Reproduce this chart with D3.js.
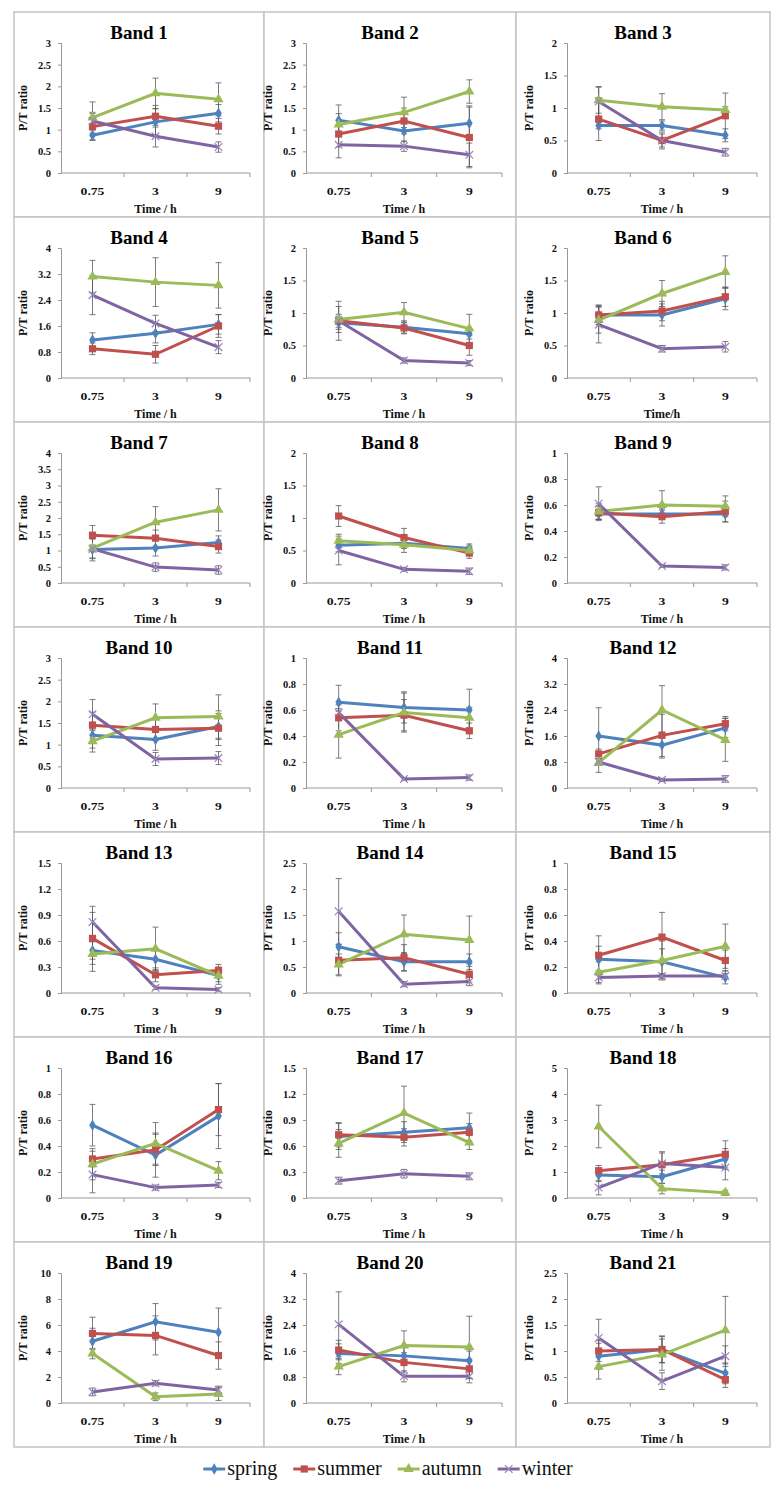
<!DOCTYPE html>
<html><head><meta charset="utf-8">
<script src="https://cdn.jsdelivr.net/npm/d3@7"></script>
<style>body{margin:0;background:#fff}svg{display:block}svg text{font-family:"Liberation Serif","DejaVu Serif",serif}</style>
</head><body>
<script>
const times = ["0.75","3","9"];
const seasons = ["spring","summer","autumn","winter"];
const colors = ["#4F81BD","#C0504D","#9BBB59","#8064A2"];
const bandTitles = d3.range(1,22).map(i=>"Band "+i);
const xTitles = ["Time / h","Time / h","Time / h","Time / h","Time / h","Time/h","Time / h","Time / h","Time / h","Time / h","Time / h","Time / h","Time / h","Time / h","Time / h","Time / h","Time / h","Time / h","Time / h","Time / h","Time / h"];
const yMax  = [3,3,2,4,2,2,4,2,1,3,1,4,1.5,2.5,1,1,1.5,5,10,4,2.5];
const yStep = [0.5,0.5,0.5,0.8,0.5,0.5,0.5,0.5,0.2,0.5,0.2,0.8,0.3,0.5,0.2,0.2,0.3,1,2,0.8,0.5];

const spring = [[0.87,1.18,1.38],[1.22,0.97,1.15],[0.73,0.73,0.58],[1.17,1.38,1.65],[0.85,0.78,0.68],[0.97,0.97,1.22],[1.03,1.08,1.25],[0.58,0.61,0.53],[0.53,0.53,0.53],[1.22,1.12,1.42],[0.66,0.62,0.60],[1.60,1.32,1.85],[0.49,0.39,0.20],[0.89,0.60,0.60],[0.26,0.24,0.12],[0.56,0.33,0.63],[0.71,0.76,0.81],[0.88,0.82,1.50],[4.75,6.25,5.45],[1.52,1.45,1.30],[0.90,1.03,0.57]];
const summer = [[1.07,1.31,1.08],[0.90,1.20,0.82],[0.83,0.50,0.88],[0.90,0.73,1.60],[0.88,0.77,0.50],[0.97,1.03,1.25],[1.47,1.38,1.12],[1.03,0.70,0.46],[0.54,0.51,0.55],[1.45,1.35,1.38],[0.54,0.56,0.44],[1.05,1.62,1.98],[0.63,0.21,0.26],[0.63,0.68,0.36],[0.29,0.43,0.25],[0.30,0.37,0.68],[0.73,0.70,0.76],[1.05,1.28,1.68],[5.35,5.20,3.65],[1.63,1.25,1.05],[1.00,1.03,0.45]];
const autumn = [[1.28,1.84,1.70],[1.12,1.40,1.88],[1.12,1.02,0.97],[3.12,2.95,2.85],[0.90,1.01,0.76],[0.89,1.30,1.63],[1.07,1.87,2.25],[0.65,0.59,0.50],[0.55,0.60,0.59],[1.08,1.62,1.65],[0.41,0.58,0.54],[0.78,2.40,1.48],[0.45,0.51,0.20],[0.55,1.13,1.02],[0.16,0.25,0.36],[0.26,0.42,0.21],[0.63,0.98,0.64],[2.75,0.36,0.20],[3.80,0.48,0.70],[1.12,1.77,1.72],[0.70,0.93,1.40]];
const winter = [[1.20,0.85,0.60],[0.65,0.62,0.42],[1.10,0.50,0.32],[2.55,1.68,0.95],[0.88,0.27,0.23],[0.82,0.45,0.48],[1.05,0.49,0.40],[0.50,0.21,0.18],[0.61,0.13,0.12],[1.70,0.67,0.69],[0.58,0.07,0.08],[0.80,0.25,0.28],[0.82,0.06,0.04],[1.57,0.17,0.22],[0.12,0.13,0.13],[0.18,0.08,0.10],[0.20,0.28,0.25],[0.40,1.33,1.17],[0.85,1.52,1.00],[2.42,0.82,0.82],[1.25,0.42,0.90]];

const springErr = [[0.12,0.30,0.20],[0.35,0.25,0.40],[0.05,0.07,0.10],[0.22,0.30,0.30],[0.10,0.10,0.08],[0.15,0.17,0.17],[0.35,0.25,0.20],[0.10,0.08,0.07],[0.04,0.04,0.06],[0.30,0.25,0.30],[0.13,0.12,0.16],[0.87,0.40,0.30],[0.10,0.12,0.07],[0.27,0.18,0.15],[0.10,0.10,0.05],[0.16,0.17,0.25],[0.15,0.12,0.17],[0.25,0.25,0.40],[1.00,1.40,1.85],[0.30,0.30,0.30],[0.25,0.25,0.20]];
const summerErr = [[0.30,0.25,0.18],[0.30,0.30,0.70],[0.33,0.10,0.35],[0.18,0.27,0.35],[0.10,0.08,0.15],[0.15,0.15,0.15],[0.30,0.25,0.20],[0.16,0.14,0.08],[0.05,0.05,0.08],[0.30,0.25,0.40],[0.10,0.12,0.06],[0.15,0.65,0.22],[0.30,0.08,0.07],[0.30,0.25,0.15],[0.15,0.19,0.08],[0.06,0.12,0.20],[0.14,0.10,0.10],[0.20,0.50,0.52],[1.25,1.50,1.05],[0.30,0.30,0.30],[0.20,0.26,0.15]];
const autumnErr = [[0.36,0.35,0.38],[0.25,0.35,0.27],[0.20,0.20,0.05],[0.50,0.75,0.70],[0.20,0.15,0.22],[0.20,0.20,0.25],[0.30,0.48,0.65],[0.10,0.12,0.07],[0.06,0.11,0.08],[0.25,0.32,0.50],[0.18,0.15,0.08],[0.30,0.75,0.66],[0.20,0.25,0.10],[0.20,0.37,0.46],[0.08,0.15,0.17],[0.12,0.16,0.07],[0.16,0.31,0.08],[0.82,0.20,0.10],[0.40,0.30,0.50],[0.25,0.45,0.95],[0.24,0.30,0.65]];
const winterErr = [[0.20,0.25,0.12],[0.30,0.12,0.27],[0.23,0.13,0.06],[0.60,0.25,0.20],[0.30,0.04,0.04],[0.28,0.05,0.08],[0.30,0.13,0.13],[0.22,0.03,0.05],[0.13,0.01,0.02],[0.34,0.15,0.15],[0.03,0.01,0.02],[0.10,0.05,0.10],[0.18,0.02,0.02],[0.63,0.05,0.08],[0.05,0.02,0.02],[0.14,0.02,0.02],[0.04,0.05,0.04],[0.28,0.40,0.47],[0.30,0.20,0.30],[1.00,0.17,0.20],[0.36,0.16,0.20]];

const seriesVals = [spring, summer, autumn, winter];
const seriesErr = [springErr, summerErr, autumnErr, winterErr];
const symbols = [d3.symbolDiamond, d3.symbolSquare, d3.symbolTriangle, d3.symbolX];
const symSize = [38, 52, 46, 40];

const W = 776, H = 1495;
const svg = d3.select("body").append("svg").attr("width", W).attr("height", H);
svg.append("rect").attr("width", W).attr("height", H).attr("fill", "#fff");

const colX = [14, 264, 516, 770];
const rowTop0 = 12, rowStep = 205;
const plotL = [47, 42, 51], plotR = [236, 238, 241];
const plotT = 31, plotB = 161;
const serif = '"Liberation Serif","DejaVu Serif",serif';

function setFont(sel, size, bold) {
  sel.style("font-family", serif).style("font-size", size + "px").style("font-weight", bold ? "bold" : "normal");
}

for (let b = 0; b < 21; b++) {
  const r = Math.floor(b / 3), c = b % 3;
  const px = colX[c], py = rowTop0 + r * rowStep;
  const pw = colX[c + 1] - colX[c];
  const g = svg.append("g").attr("transform", `translate(${px},${py})`);
  g.append("rect").attr("x", 0).attr("y", 0).attr("width", pw).attr("height", rowStep)
    .attr("fill", "#fff").attr("stroke", "#c3c3c3").attr("stroke-width", 1.5);

  const x = d3.scaleBand().domain(times).range([plotL[c], plotR[c]]).padding(0);
  const y = d3.scaleLinear().domain([0, yMax[b]]).range([plotB, plotT]);
  const nT = Math.round(yMax[b] / yStep[b]);
  const tv = d3.range(0, nT + 1).map(i => +(i * yStep[b]).toFixed(2));

  const ya = g.append("g").attr("transform", `translate(${plotL[c]},0)`)
    .call(d3.axisLeft(y).tickValues(tv).tickSize(3).tickPadding(7).tickFormat(d => String(d)));
  ya.attr("font-family", null);
  ya.select(".domain").attr("stroke", "#999");
  ya.selectAll(".tick line").attr("stroke", "#999");
  const yt = ya.selectAll("text").attr("fill", "#111");
  setFont(yt, 10.5, true);

  const xa = g.append("g").attr("transform", `translate(0,${plotB})`);
  xa.append("line").attr("x1", plotL[c]).attr("x2", plotR[c]).attr("y1", 0).attr("y2", 0).attr("stroke", "#999");
  times.forEach((t, i) => {
    const bx = x(t) + x.bandwidth();
    xa.append("line").attr("x1", bx).attr("x2", bx).attr("y1", 0).attr("y2", 4).attr("stroke", "#999");
    const tt = xa.append("text").attr("transform", `translate(${x(t) + x.bandwidth() / 2},22) scale(1.3,1)`)
      .attr("text-anchor", "middle").attr("fill", "#111").text(t);
    setFont(tt, 10.5, true);
  });

  const ti = g.append("text").attr("x", pw / 2).attr("y", 27).attr("text-anchor", "middle")
    .attr("fill", "#000").text(bandTitles[b]);
  setFont(ti, 19, true);
  const xt = g.append("text").attr("x", (plotL[c] + plotR[c]) / 2).attr("y", 201).attr("text-anchor", "middle")
    .attr("fill", "#111").text(xTitles[b]);
  setFont(xt, 12, true);
  const yl = g.append("text").attr("transform", `translate(${plotL[c] - 34},${(plotT + plotB) / 2}) rotate(-90)`)
    .attr("text-anchor", "middle").attr("fill", "#111").text("P/T ratio");
  setFont(yl, 12, true);

  const cx = t => x(t) + x.bandwidth() / 2;
  seriesVals.forEach((sv, s) => {
    const vals = sv[b];
    g.append("path").datum(vals)
      .attr("d", d3.line().x((d, i) => cx(times[i])).y(d => y(d)))
      .attr("fill", "none").attr("stroke", colors[s]).attr("stroke-width", 3);
  });
  seriesVals.forEach((sv, s) => {
    const vals = sv[b], errs = seriesErr[s][b];
    vals.forEach((v, i) => {
      const xx = cx(times[i]);
      const y1 = y(v + errs[i]), y2 = y(Math.max(0, v - errs[i]));
      const eg = g.append("g").attr("stroke", "#555").attr("stroke-width", 0.9).attr("opacity", 0.85);
      eg.append("line").attr("x1", xx).attr("x2", xx).attr("y1", y1).attr("y2", y2);
      eg.append("line").attr("x1", xx - 3).attr("x2", xx + 3).attr("y1", y1).attr("y2", y1);
      eg.append("line").attr("x1", xx - 3).attr("x2", xx + 3).attr("y1", y2).attr("y2", y2);
    });
  });
  seriesVals.forEach((sv, s) => {
    const vals = sv[b];
    vals.forEach((v, i) => {
      const p = g.append("path").attr("d", d3.symbol(symbols[s], symSize[s])())
        .attr("transform", `translate(${cx(times[i])},${y(v)})`);
      if (s === 3) p.attr("fill", "none").attr("stroke", "#9a86bd").attr("stroke-width", 1.2);
      else p.attr("fill", colors[s]);
    });
  });
}

const lg = svg.append("g");
const ly = 1469;
let xpos = 0;
seasons.forEach((s, i) => {
  const it = lg.append("g").attr("transform", `translate(${xpos},0)`);
  it.append("line").attr("x1", 0).attr("x2", 22).attr("y1", ly).attr("y2", ly).attr("stroke", colors[i]).attr("stroke-width", 3);
  const m = it.append("path").attr("d", d3.symbol(symbols[i], symSize[i])()).attr("transform", `translate(11,${ly})`);
  if (i === 3) m.attr("fill", "none").attr("stroke", "#9a86bd").attr("stroke-width", 1.2);
  else m.attr("fill", colors[i]);
  const t = it.append("text").attr("x", 24).attr("y", ly + 6).attr("fill", "#111").text(s);
  setFont(t, 20, false);
  xpos += 24 + t.node().getComputedTextLength() + 16;
});
const totalW = xpos - 16;
lg.attr("transform", `translate(${388 - totalW / 2},0)`);
</script>
</body></html>
